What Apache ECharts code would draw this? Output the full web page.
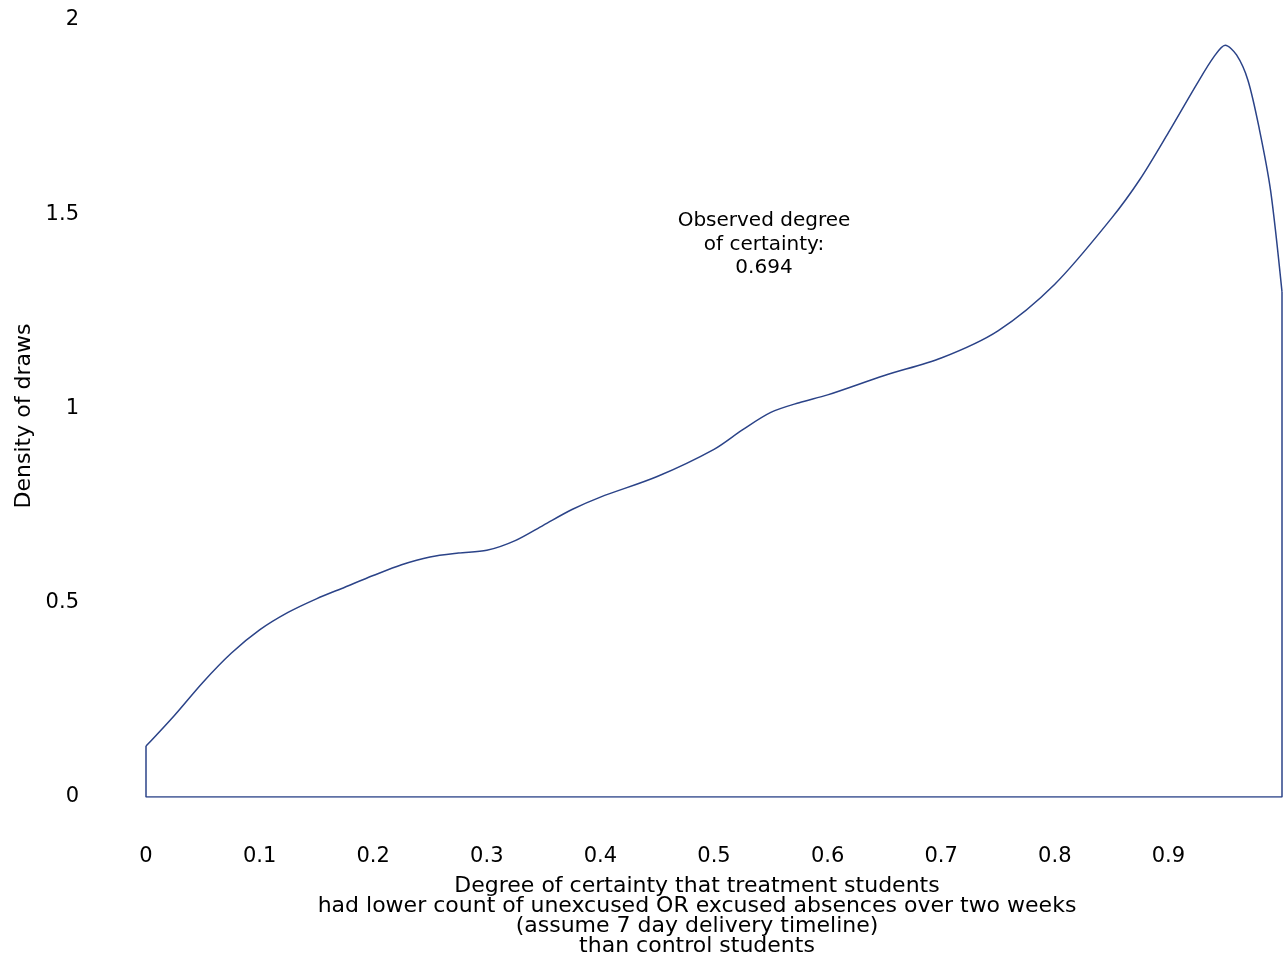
<!DOCTYPE html>
<html><head><meta charset="utf-8">
<script src="https://cdn.jsdelivr.net/npm/echarts@6/dist/echarts.min.js"></script>
<style>html,body{margin:0;padding:0;background:#fff}#c{width:1286px;height:962px}</style>
</head><body><div id="c"></div>
<script>
var xVals = [0,0.025,0.05,0.075,0.1,0.125,0.15,0.175,0.2,0.225,0.25,0.275,0.3,0.325,0.35,0.375,0.4,0.45,0.5,0.525,0.55,0.575,0.6,0.65,0.7,0.75,0.8,0.85,0.875,0.9,0.925,0.94,0.95,0.96,0.97,0.98,0.99,1.0];
var density = [0.131,0.21,0.295,0.37,0.43,0.475,0.51,0.54,0.57,0.598,0.618,0.628,0.635,0.66,0.70,0.74,0.772,0.825,0.895,0.945,0.99,1.015,1.035,1.085,1.13,1.2,1.32,1.49,1.59,1.71,1.835,1.905,1.935,1.91,1.845,1.72,1.56,1.30];
var xTicks = [0,0.1,0.2,0.3,0.4,0.5,0.6,0.7,0.8,0.9];
var yTicks = [0,0.5,1,1.5,2];
var annotText = ['Observed degree','of certainty:','0.694'];
var xTitle = ['Degree of certainty that treatment students','had lower count of unexcused OR excused absences over two weeks','(assume 7 day delivery timeline)','than control students'];
var yTitle = 'Density of draws';

var curve = xVals.map(function(x,i){return [x, density[i]];});
var frame = [[0, density[0]],[0,0],[1,0],[1, density[density.length-1]]];
var col = '#2b4388';
var font = 'DejaVu Sans';

var chart = echarts.init(document.getElementById('c'));
chart.setOption({
  animation:false,
  grid:{left:146,right:4,top:20,bottom:165},
  xAxis:{type:'value',min:0,max:1,interval:0.1,
    axisLine:{show:false},axisTick:{show:false},splitLine:{show:false},
    axisLabel:{margin:49,fontSize:21,fontFamily:font,color:'#000',
      formatter:function(v){var r=Math.round(v*10)/10; return xTicks.indexOf(r)>=0? String(r):'';}}},
  yAxis:{type:'value',min:0,max:2,interval:0.5,
    axisLine:{show:false},axisTick:{show:false},splitLine:{show:false},
    axisLabel:{margin:67,fontSize:21,fontFamily:font,color:'#000',
      formatter:function(v){return yTicks.indexOf(v)>=0? String(v):'';}}},
  graphic:[
    {type:'text',x:697,y:876,style:{text:xTitle.join('\n'),fontSize:22,fontFamily:font,fill:'#000',textAlign:'center',textVerticalAlign:'top',lineHeight:20}},
    {type:'text',x:24,y:416,rotation:Math.PI/2,style:{text:yTitle,fontSize:22,fontFamily:font,fill:'#000',textAlign:'center',textVerticalAlign:'middle'}}
  ],
  series:[
    {type:'line',data:curve,smooth:0.3,symbol:'none',lineStyle:{color:col,width:1.5}},
    {type:'line',data:frame,symbol:'none',lineStyle:{color:col,width:1.5},
      markPoint:{symbol:'circle',symbolSize:0,itemStyle:{color:'rgba(0,0,0,0)'},
        data:[{coord:[0.544,1.422],value:0,label:{show:true,position:'inside',formatter:annotText.join('\n'),fontSize:20,fontFamily:font,color:'#000',align:'center',verticalAlign:'middle',lineHeight:23.5}}]}}
  ]
});
</script></body></html>
